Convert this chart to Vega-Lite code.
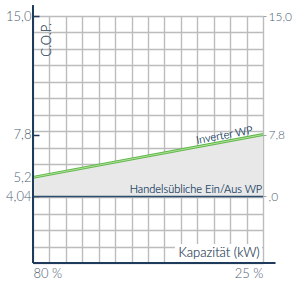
{
  "$schema": "https://vega.github.io/schema/vega-lite/v6.json",
  "width": 230,
  "height": 247,
  "autosize": {"type": "none"},
  "padding": {"left": 33, "top": 16, "right": 29, "bottom": 18},
  "config": {
    "view": {"stroke": null},
    "font": "Lato",
    "axis": {"labelFont": "Lato", "labelColor": "#4d6072", "labelFontSize": 13, "labelFontWeight": 300, "labelOverlap": false, "domain": false, "title": null}
  },
  "data": {"values": [
    {"x": 0, "inverter": 5.2, "onoff": 4.04},
    {"x": 14, "inverter": 7.8, "onoff": 4.04}
  ]},
  "resolve": {"axis": {"x": "independent", "y": "independent"}},
  "layer": [
    {
      "mark": {"type": "area", "color": "#e8e8e8", "opacity": 1},
      "encoding": {
        "x": {"field": "x", "type": "quantitative", "scale": {"domain": [0, 14], "nice": false, "zero": false},
          "axis": {"values": [0,1,2,3,4,5,6,7,8,9,10,11,12,13,14], "grid": true, "gridColor": "#bcbcbc", "gridWidth": 1.4, "ticks": false, "labelPadding": 4,
            "labelFlush": true,
            "labelExpr": "datum.value == 0 ? '80 %' : datum.value == 14 ? '25 %' : ''"}},
        "y": {"field": "inverter", "type": "quantitative", "scale": {"domain": [0, 15], "nice": false, "zero": false},
          "axis": {"orient": "left", "values": [0,1,2,3,4,5,6,7,8,9,10,11,12,13,14,15,4.04,5.2,7.8], "grid": true, "gridWidth": 1.4,
            "gridColor": {"condition": {"test": "datum.value % 1 == 0", "value": "#bcbcbc"}, "value": "transparent"},
            "tickColor": {"condition": {"test": "datum.value % 1 != 0 || datum.value == 15", "value": "#1f3b5c"}, "value": "transparent"},
            "tickSize": -6, "tickWidth": 1.5, "labelPadding": 8,
            "labelExpr": "datum.value == 15 ? '15,0' : datum.value == 7.8 ? '7,8' : datum.value == 5.2 ? '5,2' : datum.value == 4.04 ? '4,04' : ''"}},
        "y2": {"field": "onoff"}
      }
    },
    {
      "mark": {"type": "rule", "color": "#2d4d6e", "strokeWidth": 1.5},
      "encoding": {
        "x": {"field": "x", "type": "quantitative", "aggregate": "min", "axis": null},
        "x2": {"field": "x", "aggregate": "max"},
        "y": {"field": "onoff", "type": "quantitative", "aggregate": "min", "axis": null}
      }
    },
    {
      "mark": {"type": "line", "color": "#5db848", "strokeWidth": 3},
      "encoding": {
        "x": {"field": "x", "type": "quantitative", "axis": null},
        "y": {"field": "inverter", "type": "quantitative",
          "axis": {"orient": "right", "values": [15, 7.8, 4.04], "grid": false, "tickSize": 3, "tickColor": "#9aa4ad", "labelPadding": 2, "labelFontSize": 12,
            "labelExpr": "datum.value == 15 ? '15,0' : datum.value == 7.8 ? '7,8' : ',0'"}}
      }
    },
    {
      "mark": {"type": "line", "color": "#b3e09c", "strokeWidth": 1},
      "encoding": {
        "x": {"field": "x", "type": "quantitative", "axis": null},
        "y": {"field": "inverter", "type": "quantitative", "axis": null}
      }
    },
    {
      "mark": {"type": "rect", "color": "white"},
      "encoding": {
        "x": {"datum": 8.64, "type": "quantitative", "axis": null},
        "x2": {"datum": 13.94},
        "y": {"datum": 0.06, "type": "quantitative", "axis": null},
        "y2": {"datum": 1.15}
      }
    },
    {
      "mark": {"type": "text", "text": "Kapazität (kW)", "align": "right", "baseline": "alphabetic", "fontSize": 13, "fontWeight": 300, "color": "#4d6072"},
      "encoding": {
        "x": {"datum": 13.8, "type": "quantitative", "axis": null},
        "y": {"datum": 0.35, "type": "quantitative", "axis": null}
      }
    },
    {
      "mark": {"type": "text", "text": "Handelsübliche Ein/Aus WP", "align": "right", "baseline": "alphabetic", "fontSize": 11, "fontWeight": 300, "color": "#2d4d6e"},
      "encoding": {
        "x": {"datum": 13.95, "type": "quantitative", "axis": null},
        "y": {"datum": 4.25, "type": "quantitative", "axis": null}
      }
    },
    {
      "mark": {"type": "text", "text": "Inverter WP", "align": "center", "baseline": "alphabetic", "fontSize": 11, "fontWeight": 300, "angle": 349.5, "color": "#2d4d6e"},
      "encoding": {
        "x": {"datum": 11.7, "type": "quantitative", "axis": null},
        "y": {"datum": 7.55, "type": "quantitative", "axis": null}
      }
    },
    {
      "mark": {"type": "text", "text": "C.O.P.", "align": "right", "baseline": "middle", "fontSize": 13, "fontWeight": 300, "angle": 270, "color": "#4d6072"},
      "encoding": {
        "x": {"datum": 0.88, "type": "quantitative", "axis": null},
        "y": {"datum": 14.57, "type": "quantitative", "axis": null}
      }
    },
    {
      "mark": {"type": "rule", "color": "#1f3b5c", "strokeWidth": 2},
      "encoding": {
        "x": {"datum": 0, "type": "quantitative", "axis": null},
        "y": {"datum": 0, "type": "quantitative", "axis": null},
        "y2": {"datum": 15.65}
      }
    },
    {
      "mark": {"type": "rule", "color": "#1f3b5c", "strokeWidth": 2},
      "encoding": {
        "x": {"datum": 0, "type": "quantitative", "axis": null},
        "x2": {"datum": 14.75},
        "y": {"datum": 0, "type": "quantitative", "axis": null}
      }
    }
  ]
}
